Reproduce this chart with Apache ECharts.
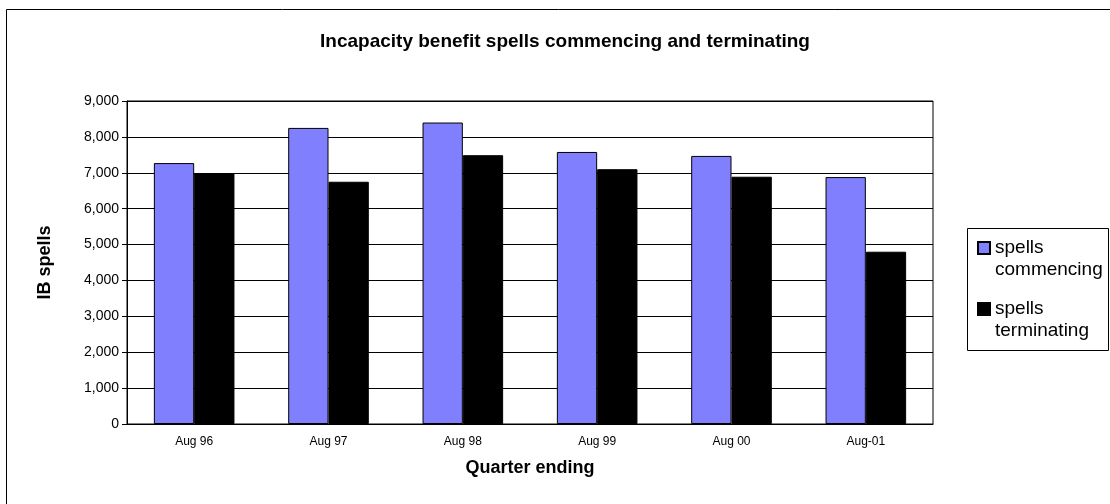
<!DOCTYPE html>
<html><head><meta charset="utf-8">
<script src="https://cdn.jsdelivr.net/npm/echarts@6/dist/echarts.min.js"></script>
<style>html,body{margin:0;padding:0;background:#fff}#c{width:1110px;height:504px}</style>
</head><body><div id="c"></div>
<script>
const categories = ['Aug 96','Aug 97','Aug 98','Aug 99','Aug 00','Aug-01'];
const commencing = [7270, 8250, 8400, 7580, 7470, 6880];
const terminating = [6980, 6750, 7490, 7100, 6890, 4800];
const seriesNames = ['spells commencing','spells terminating'];
const yTicks = [0,1000,2000,3000,4000,5000,6000,7000,8000,9000];
const F = '"Liberation Sans", Arial, sans-serif';
const chart = echarts.init(document.getElementById('c'));
chart.setOption({
  animation:false,
  backgroundColor:'#fff',
  textStyle:{fontFamily:F},
  graphic:[
    {type:'rect',shape:{x:6.5,y:9.5,width:1200,height:600},style:{fill:'none',stroke:'#000',lineWidth:1},silent:true},
    {type:'rect',shape:{x:967.5,y:228.5,width:141,height:122},style:{fill:'none',stroke:'#000',lineWidth:1},silent:true}
  ],
  title:{text:'Incapacity benefit spells commencing and terminating',left:560,textAlign:'center',top:27,
    textStyle:{fontFamily:F,fontSize:19,fontWeight:'bold',color:'#000'}},
  legend:{orient:'vertical',left:977,top:215,padding:0,itemGap:-5,
    itemWidth:12,itemHeight:12,icon:'rect',
    formatter:n=>'\n'+n.replace(' ','\n'),
    textStyle:{fontFamily:F,fontSize:19,color:'#000',lineHeight:22},
    data:seriesNames},
  grid:{left:127,right:177,top:101,bottom:80,show:true,borderColor:'#000',borderWidth:1},
  xAxis:{type:'category',data:categories,name:'Quarter ending',nameLocation:'middle',nameGap:35,
    nameTextStyle:{fontFamily:F,fontSize:18,fontWeight:'bold',color:'#000'},
    axisLine:{lineStyle:{color:'#000'}},axisTick:{length:5,lineStyle:{color:'#000'}},
    axisLabel:{fontSize:12,color:'#000',margin:12}},
  yAxis:{type:'value',min:yTicks[0],max:yTicks[yTicks.length-1],interval:1000,name:'IB spells',nameLocation:'middle',nameGap:73,
    nameTextStyle:{fontFamily:F,fontSize:18,fontWeight:'bold',color:'#000'},
    axisLine:{show:true,lineStyle:{color:'#000'}},axisTick:{show:true,length:5,lineStyle:{color:'#000'}},
    axisLabel:{fontSize:14,color:'#000',margin:8,formatter:v=>v.toLocaleString('en-US')},
    splitLine:{lineStyle:{color:'#000',width:1}}},
  series:[
    {name:seriesNames[0],type:'bar',data:commencing,barGap:'0%',barCategoryGap:'40%',
      itemStyle:{color:'#8080ff',borderColor:'#000',borderWidth:1}},
    {name:seriesNames[1],type:'bar',data:terminating,
      itemStyle:{color:'#000',borderColor:'#000',borderWidth:1}}
  ]
});
</script></body></html>
